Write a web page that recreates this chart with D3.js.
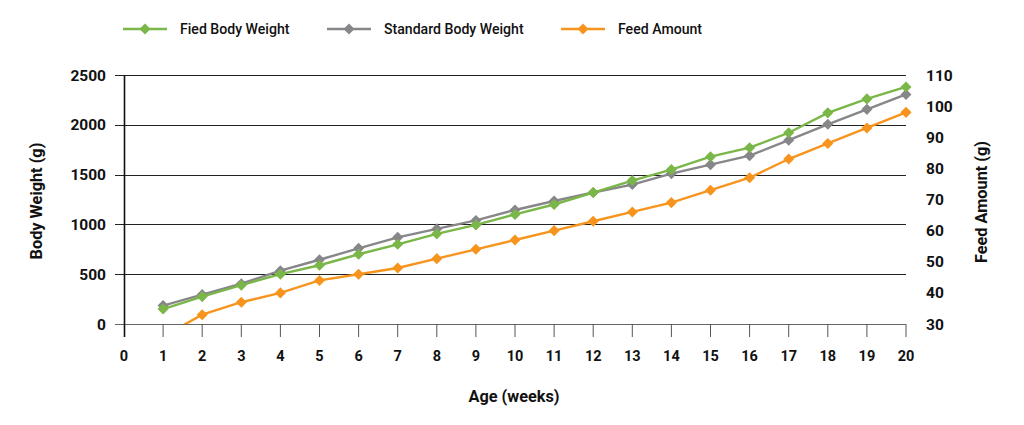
<!DOCTYPE html>
<html>
<head>
<meta charset="utf-8">
<script src="https://cdn.jsdelivr.net/npm/d3@7"></script>
<style>
  html, body { margin: 0; padding: 0; background: #fff; }
  svg { display: block; font-family: Roboto, "Noto Sans", sans-serif; }
</style>
</head>
<body>
<svg id="chart" width="1024" height="425"></svg>
<script>
const weeks = [1,2,3,4,5,6,7,8,9,10,11,12,13,14,15,16,17,18,19,20];
const fedBodyWeight = [150,275,390,500,590,700,800,905,995,1100,1200,1320,1440,1550,1680,1770,1920,2120,2260,2380];
const standardBodyWeight = [185,295,405,535,645,760,870,955,1040,1145,1235,1320,1400,1510,1600,1690,1845,2005,2155,2305];
const feedAmount = [26,33,37,40,44,46,48,51,54,57,60,63,66,69,73,77,83,88,93,98];
const xTicks = d3.range(0, 21);
const leftTicks = [0,500,1000,1500,2000,2500];
const rightTicks = [30,40,50,60,70,80,90,100,110];
const seriesNames = ["Fied Body Weight", "Standard Body Weight", "Feed Amount"];
const seriesColors = ["#7ab648", "#87878a", "#f7941d"];

const svg = d3.select("#chart");
const L = 124, R = 906, T = 75, B = 324;

const x = d3.scaleLinear().domain([0, 20]).range([L, R]);
const yL = d3.scaleLinear().domain([0, 2500]).range([B, T]);
const yR = d3.scaleLinear().domain([30, 110]).range([B, T]);

svg.append("defs").append("clipPath").attr("id", "clip")
  .append("rect").attr("x", 0).attr("y", 0).attr("width", 1024).attr("height", B);

// gridlines
svg.append("g").selectAll("line").data(leftTicks).join("line")
  .attr("x1", L - 9).attr("x2", R)
  .attr("y1", d => Math.round(yL(d)) + 0.5).attr("y2", d => Math.round(yL(d)) + 0.5)
  .attr("stroke", d => d === 0 ? "#666" : "#222").attr("stroke-width", 1);

// left axis line
svg.append("line").attr("x1", L + 0.5).attr("x2", L + 0.5).attr("y1", T).attr("y2", B + 13)
  .attr("stroke", "#111").attr("stroke-width", 1.6);

// x ticks
svg.append("g").selectAll("line").data(xTicks.filter(d => d > 0)).join("line")
  .attr("x1", d => x(d)).attr("x2", d => x(d))
  .attr("y1", B).attr("y2", B + 13)
  .attr("stroke", "#555").attr("stroke-width", 1);

// x tick labels
svg.append("g").selectAll("text").data(xTicks).join("text")
  .attr("x", d => x(d)).attr("y", 361)
  .attr("text-anchor", "middle")
  .attr("font-size", 14.5).attr("font-weight", "bold").attr("fill", "#111")
  .text(d => d);

// left tick labels
svg.append("g").selectAll("text").data(leftTicks).join("text")
  .attr("x", 106).attr("y", d => yL(d) + 5.5)
  .attr("text-anchor", "end")
  .attr("font-size", 15.5).attr("font-weight", "bold").attr("fill", "#111")
  .text(d => d);

// right tick labels
svg.append("g").selectAll("text").data(rightTicks).join("text")
  .attr("x", 926).attr("y", d => yR(d) + 5.5)
  .attr("text-anchor", "start")
  .attr("font-size", 15.5).attr("font-weight", "bold").attr("fill", "#111")
  .text(d => d);

// axis titles
svg.append("text").attr("transform", `translate(42,201) rotate(-90)`)
  .attr("text-anchor", "middle").attr("font-size", 16.3).attr("font-weight", "bold").attr("fill", "#111")
  .text("Body Weight (g)");
svg.append("text").attr("transform", `translate(987,202) rotate(-90)`)
  .attr("text-anchor", "middle").attr("font-size", 16.3).attr("font-weight", "bold").attr("fill", "#111")
  .text("Feed Amount (g)");
svg.append("text").attr("x", 514).attr("y", 402)
  .attr("text-anchor", "middle").attr("font-size", 16.3).attr("font-weight", "bold").attr("fill", "#111")
  .text("Age (weeks)");

// series
const series = [
  { name: seriesNames[0], color: seriesColors[0], values: fedBodyWeight, y: yL },
  { name: seriesNames[1], color: seriesColors[1], values: standardBodyWeight, y: yL },
  { name: seriesNames[2], color: seriesColors[2], values: feedAmount, y: yR }
];
const diamond = d3.symbol().type(d3.symbolDiamond2).size(78);

const plot = svg.append("g").attr("clip-path", "url(#clip)");
[1, 0, 2].forEach(i => {
  const s = series[i];
  const line = d3.line().x((d, j) => x(weeks[j])).y(d => s.y(d));
  plot.append("path").datum(s.values)
    .attr("d", line).attr("fill", "none")
    .attr("stroke", s.color).attr("stroke-width", 2.4);
  plot.append("g").selectAll("path").data(s.values).join("path")
    .attr("transform", (d, j) => `translate(${x(weeks[j])},${s.y(d)})`)
    .attr("d", diamond).attr("fill", s.color);
});

// legend
const legendX = [123, 327, 561];
const legend = svg.append("g");
series.forEach((s, i) => {
  const g = legend.append("g").attr("transform", `translate(${legendX[i]},29)`);
  g.append("line").attr("x1", 0).attr("x2", 44).attr("y1", 0).attr("y2", 0)
    .attr("stroke", s.color).attr("stroke-width", 2.5);
  g.append("path").attr("transform", "translate(22,0)").attr("d", diamond).attr("fill", s.color);
  g.append("text").attr("x", 57).attr("y", 5)
    .attr("font-size", 14.1).attr("font-weight", 500).attr("fill", "#111")
    .text(s.name);
});
</script>
</body>
</html>
